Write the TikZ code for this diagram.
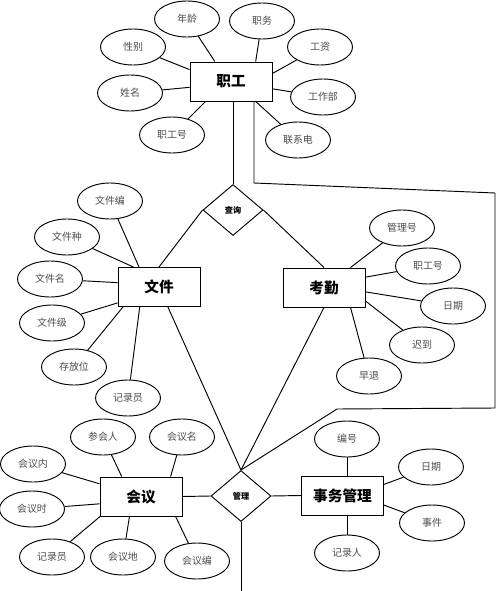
\documentclass[tikz,border=0pt]{standalone}
\usepackage{fontspec}
\newfontfamily\cjk{Noto Sans CJK SC}
\usepackage{tikz}
\usetikzlibrary{shapes.geometric, positioning}

\begin{document}
\begin{tikzpicture}[x=0.03cm, y=-0.03cm, line width=0.8pt,
    ent/.style={draw, minimum width=2.46cm, minimum height=1.17cm,
        font=\cjk\bfseries\fontsize{12.5}{14}\selectfont},
    attr/.style={ellipse, draw, minimum width=1.95cm, minimum height=1.08cm,
        inner sep=0pt, text=black!70, font=\cjk\fontsize{8.5}{10}\selectfont},
    rel/.style={diamond, draw, minimum width=1.8cm, minimum height=1.53cm,
        inner sep=0pt, font=\cjk\bfseries\fontsize{7}{8}\selectfont}]

    \useasboundingbox (0,0) rectangle (500,591);

    % =================================================================
    % 1. ENTITIES AND RELATIONSHIPS
    % =================================================================
    \node[ent] (zg) at (231,81.5) {职工};
    \node[ent] (wj) at (159,287) {文件};
    \node[ent] (kq) at (324,287.5) {考勤};
    \node[ent] (hy) at (141,496.5) {会议};
    \node[ent] (sw) at (342.5,495.5) {事务管理};

    \node[rel] (cx) at (233,210) {查询};
    \node[rel] (gl) at (241,496) {管理};

    % =================================================================
    % 2. ATTRIBUTES
    % =================================================================
    % 职工
    \node[attr] (zgNl) at (187,19) {年龄};
    \node[attr] (zgZw) at (262,21) {职务};
    \node[attr] (zgXb) at (133,47) {性别};
    \node[attr] (zgGz) at (320,47) {工资};
    \node[attr] (zgXm) at (130,93) {姓名};
    \node[attr] (zgBm) at (323,97) {工作部};
    \node[attr] (zgHao) at (172,135) {职工号};
    \node[attr] (zgDh) at (298,140) {联系电};

    % 文件
    \node[attr] (wjBh) at (110,201) {文件编};
    \node[attr] (wjZl) at (67,237) {文件种};
    \node[attr] (wjMc) at (50,279) {文件名};
    \node[attr] (wjJb) at (52,323) {文件级};
    \node[attr] (wjWz) at (74,367) {存放位};
    \node[attr] (wjJl) at (128,398) {记录员};

    % 考勤
    \node[attr] (kqGl) at (402,228) {管理号};
    \node[attr] (kqZg) at (428,266) {职工号};
    \node[attr] (kqRq) at (453,306) {日期};
    \node[attr] (kqCd) at (422,345) {迟到};
    \node[attr] (kqZt) at (369,376) {早退};

    % 会议
    \node[attr] (hyRen) at (103,437) {参会人};
    \node[attr] (hyMc) at (182,437) {会议名};
    \node[attr] (hyNr) at (33,464) {会议内};
    \node[attr] (hySj) at (32,509) {会议时};
    \node[attr] (hyJl) at (52,557) {记录员};
    \node[attr] (hyDd) at (123,557) {会议地};
    \node[attr] (hyBh) at (197,561) {会议编};

    % 事务管理
    \node[attr] (swBh) at (347,439) {编号};
    \node[attr] (swRq) at (431,467) {日期};
    \node[attr] (swSj) at (432,523) {事件};
    \node[attr] (swJl) at (347,553) {记录人};

    % =================================================================
    % 3. ATTRIBUTE LINKS
    % =================================================================
    \draw (zg.129) -- (zgNl);
    \draw (zg.39) -- (zgZw);
    \draw (zg.164) -- (zgXb);
    \draw (zg.11) -- (zgGz);
    \draw (zg.188) -- (zgXm);
    \draw (zg.350) -- (zgBm);
    \draw (zg.218) -- (zgHao);
    \draw (zg.321) -- (zgDh);

    \draw (wj.135) -- (wjBh);
    \draw (wj.142) -- (wjZl);
    \draw (wj.174) -- (wjMc);
    \draw (wj.201) -- (wjJb);
    \draw (wj.209) -- (wjWz);
    \draw (wj.226) -- (wjJl);

    \draw (kq.37) -- (kqGl);
    \draw (kq.14) -- (kqZg);
    \draw (kq.354) -- (kqRq);
    \draw (kq.342) -- (kqCd);
    \draw (kq.323) -- (kqZt);

    \draw (hy.134) -- (hyRen);
    \draw (hy.34) -- (hyMc);
    \draw (hy.163) -- (hyNr);
    \draw (hy.190) -- (hySj);
    \draw (hy.206) -- (hyJl);
    \draw (hy.240) -- (hyDd);
    \draw (hy.330) -- (hyBh);

    \draw (swBh.south) -- (swBh.south |- sw.north);
    \draw (sw.15) -- (swRq);
    \draw (sw.347) -- (swSj);
    \draw (swJl.north) -- (swJl.north |- sw.south);

    % =================================================================
    % 4. RELATIONSHIP LINKS
    % =================================================================
    \draw (cx.north) -- (cx.north |- zg.south);
    \draw (cx.west) -- (wj.north);
    \draw (cx.east) -- (kq.north);

    \draw (wj.294) -- (gl.north);
    \draw (kq.south) -- (gl.north);
    \draw (hy.east) -- (gl.west);
    \draw (gl.east) -- (sw.west);

    % long line from 职工 round the right side down to 管理
    \coordinate (k1) at (254,183);
    \coordinate (k2) at (495,193);
    \coordinate (k3) at (495,408);
    \coordinate (k4) at (337,409);
    \draw (k1 |- zg.south) -- (k1) -- (k2) -- (k3) -- (k4) -- (gl.north);

    % line leaving 管理 downwards
    \coordinate (glEnd) at (241,591);
    \draw (gl.south) -- (glEnd);

\end{tikzpicture}
\end{document}
